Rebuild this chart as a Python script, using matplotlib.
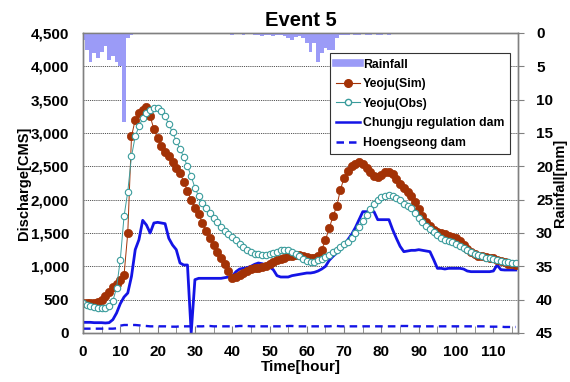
import numpy as np
import matplotlib
matplotlib.use("Agg")
import matplotlib.pyplot as plt
from matplotlib.lines import Line2D

plt.rcParams['font.family'] = ['Liberation Sans', 'DejaVu Sans']
plt.rcParams['font.weight'] = 'bold'

hours = list(range(117))

sim = [
    450, 450, 450, 455, 470, 500, 550, 620, 690, 740,
    790, 870, 1500, 2950, 3200, 3300, 3350, 3390, 3250, 3060,
    2920, 2800, 2720, 2650, 2570, 2480, 2400, 2270, 2130, 2000,
    1880, 1780, 1650, 1530, 1430, 1320, 1220, 1120, 1030, 930,
    830, 840, 870, 900, 930, 960, 970, 980, 990, 1010,
    1030, 1060, 1090, 1110, 1130, 1150, 1160, 1170, 1170, 1160,
    1140, 1120, 1120, 1150, 1250, 1400, 1570, 1750, 1900, 2150,
    2330, 2430, 2500, 2540, 2560, 2530, 2470, 2410, 2360, 2345,
    2370, 2410, 2420, 2380, 2310, 2240, 2170, 2110, 2050, 1960,
    1860, 1760, 1670, 1600, 1550, 1520, 1500, 1480, 1460, 1440,
    1420, 1380, 1320, 1260, 1210, 1180, 1160, 1150, 1140, 1130,
    1120, 1100, 1080, 1060, 1040, 1030, 1020]

obs = [
    450, 420, 400, 390, 380, 375, 380, 400, 480, 680,
    1100, 1750, 2120, 2650, 2950, 3100, 3220, 3300, 3345, 3370,
    3370, 3330, 3250, 3130, 3010, 2880, 2760, 2640, 2500, 2350,
    2180, 2050, 1950, 1870, 1800, 1730, 1660, 1590, 1530, 1480,
    1440, 1390, 1340, 1290, 1250, 1210, 1190, 1180, 1175, 1175,
    1185, 1200, 1220, 1240, 1245, 1240, 1220, 1190, 1150, 1110,
    1080, 1070, 1070, 1090, 1110, 1140, 1170, 1210, 1250, 1290,
    1330, 1370, 1420, 1500, 1590, 1680, 1770, 1860, 1940, 2000,
    2040, 2060, 2070, 2060, 2030, 1990, 1940, 1900, 1870, 1800,
    1730, 1660, 1600, 1560, 1520, 1470, 1430, 1400, 1380, 1360,
    1340, 1310, 1270, 1240, 1210, 1190, 1170, 1150, 1130, 1120,
    1110, 1100, 1080, 1070, 1060, 1050, 1050]

chungju = [
    160, 160, 160, 155, 155, 155, 150, 155, 200, 300,
    440, 540, 600, 850, 1250, 1400, 1690, 1620, 1500, 1650,
    1660, 1650, 1640, 1420, 1320, 1250, 1050, 1020, 1020, 0,
    800, 820, 820, 820, 820, 820, 820, 820, 830, 840,
    850, 920, 960, 970, 980, 1000, 1030, 1050, 1040, 1020,
    990, 950, 860, 840, 840, 840, 860, 870, 880, 890,
    900, 900, 910, 930, 960, 1000, 1090, 1150, 1200, 1250,
    1320, 1400, 1480, 1580, 1700, 1820, 1820, 1820, 1820, 1700,
    1700, 1700, 1700, 1550, 1420, 1300, 1220, 1230, 1240, 1240,
    1250, 1240, 1230, 1220, 1100, 970, 970, 960, 970, 970,
    970, 970, 960, 930, 920, 920, 920, 920, 920, 920,
    930, 1020, 950, 945, 945, 945, 945]

hoeng = [
    65, 65, 65, 65, 65, 65, 65, 65, 65, 70,
    110, 120, 120, 120, 120, 115, 110, 105, 100, 100,
    100, 100, 100, 95, 95, 95, 100, 100, 100, 100,
    100, 100, 100, 105, 105, 100, 100, 100, 100, 100,
    100, 100, 105, 105, 105, 100, 100, 100, 100, 100,
    100, 100, 100, 100, 100, 105, 105, 100, 100, 100,
    100, 100, 100, 100, 100, 100, 100, 105, 105, 100,
    100, 100, 100, 100, 100, 100, 100, 100, 100, 100,
    100, 100, 100, 100, 100, 105, 105, 105, 100, 100,
    100, 100, 100, 100, 100, 100, 100, 100, 100, 100,
    100, 100, 100, 100, 100, 100, 100, 100, 100, 95,
    95, 95, 95, 90, 90, 90, 90]

rain = [
    1.0, 2.5, 4.3, 3.0, 3.8, 2.8, 2.0, 4.0, 3.5, 4.3,
    5.0, 13.3, 0.8, 0.3, 0, 0, 0, 0, 0, 0,
    0, 0, 0, 0.2, 0, 0, 0, 0, 0, 0,
    0, 0, 0, 0, 0, 0, 0, 0, 0, 0.2,
    0.3, 0.2, 0.2, 0.3, 0.2, 0.2, 0.3, 0.3, 0.4, 0.3,
    0.3, 0.4, 0.3, 0.3, 0.4, 0.8, 1.0, 0.6, 0.5, 0.8,
    1.5, 2.8, 1.5, 4.3, 3.0, 2.3, 2.5, 2.5, 0.8, 0.3,
    0.3, 0.3, 0.2, 0.3, 0.3, 0.2, 0.3, 0.3, 0.2, 0.3,
    0.3, 0.2, 0.3, 0.2, 0.2, 0, 0, 0, 0, 0,
    0, 0, 0, 0, 0, 0, 0, 0, 0, 0,
    0, 0, 0, 0, 0, 0, 0, 0, 0, 0,
    0, 0, 0, 0, 0, 0, 0]

q_ticks = [0, 500, 1000, 1500, 2000, 2500, 3000, 3500, 4000, 4500]
rain_ticks = [0, 5, 10, 15, 20, 25, 30, 35, 40, 45]
x_ticks = list(range(0, 111, 10))

SIM_C = '#a33206'
OBS_C = '#3a9c9c'
BLUE = '#1414e6'
RAIN_C = '#9b9bf7'
SPINE = '#808080'

fig = plt.figure(figsize=(5.7, 3.82), dpi=100)
ax = fig.add_axes([83/570, 1-333/382, 435/570, 300/382])

ax.plot(hours, chungju, color=BLUE, lw=2.0, zorder=3)
ax.plot(hours, hoeng, color=BLUE, lw=1.7, ls=(0, (3.2, 2.2)), zorder=3)
ax.plot(hours, sim, color=SIM_C, lw=0.7, marker='o', ms=6.0,
        mfc=SIM_C, mec=SIM_C, mew=0.5, zorder=4)
ax.plot(hours, obs, color=OBS_C, lw=0.7, marker='o', ms=4.6,
        mfc='white', mec=OBS_C, mew=0.8, zorder=5)

ax.set_xlim(0, 116.6)
ax.set_ylim(0, 4500)
ax.set_yticks(q_ticks)
ax.set_yticklabels([f"{v:,}" for v in q_ticks])
ax.set_xticks(x_ticks)
ax.set_xticks(list(range(0, 117, 5)), minor=True)
ax.grid(axis='y', color='#555555', ls=(0, (1.2, 1.0)), lw=0.7)
ax.set_axisbelow(True)
ax.tick_params(axis='x', which='both', direction='in', length=5, color=SPINE,
               labelsize=11, pad=9)
ax.tick_params(axis='y', length=0, labelsize=11, pad=10)
for s in ax.spines.values():
    s.set_color(SPINE)
    s.set_linewidth(1.0)
ax.set_xlabel('Time[hour]', fontsize=11, fontweight='bold', labelpad=0)
ax.set_ylabel('Discharge[CMS]', fontsize=10.5, fontweight='bold', labelpad=0)
ax.set_title('Event 5', fontsize=14.5, fontweight='bold', pad=5)

ax2 = ax.twinx()
ax2.bar(hours, rain, width=1.0, color=RAIN_C, align='center', lw=0, zorder=1)
ax2.set_ylim(45, 0)
ax2.set_yticks(rain_ticks)
ax2.tick_params(axis='y', direction='out', length=4, color=SPINE,
                labelsize=11, pad=9)
for s in ax2.spines.values():
    s.set_color(SPINE)
    s.set_linewidth(1.0)
ax2.set_ylabel('Rainfall[mm]', fontsize=10.5, fontweight='bold', labelpad=0)

handles = [
    Line2D([], [], color=RAIN_C, lw=5.5),
    Line2D([], [], color=SIM_C, lw=0.8, marker='o', ms=5.5, mfc=SIM_C, mec=SIM_C),
    Line2D([], [], color=OBS_C, lw=0.8, marker='o', ms=4.5, mfc='white', mec=OBS_C),
    Line2D([], [], color=BLUE, lw=1.8),
    Line2D([], [], color=BLUE, lw=1.8, ls=(0, (3, 2))),
]
labels = ['Rainfall', 'Yeoju(Sim)', 'Yeoju(Obs)', 'Chungju regulation dam', 'Hoengseong dam']
leg = ax2.legend(handles, labels, loc='upper left', bbox_to_anchor=(0.568, 0.933),
                 fancybox=False, framealpha=1, edgecolor='#333333',
                 prop={'size': 8.8, 'weight': 'bold'}, handlelength=2.0,
                 handletextpad=0.25, labelspacing=0.62, borderpad=0.45,
                 borderaxespad=0)
leg.get_frame().set_linewidth(0.8)

fig.savefig('out.png', dpi=100)
